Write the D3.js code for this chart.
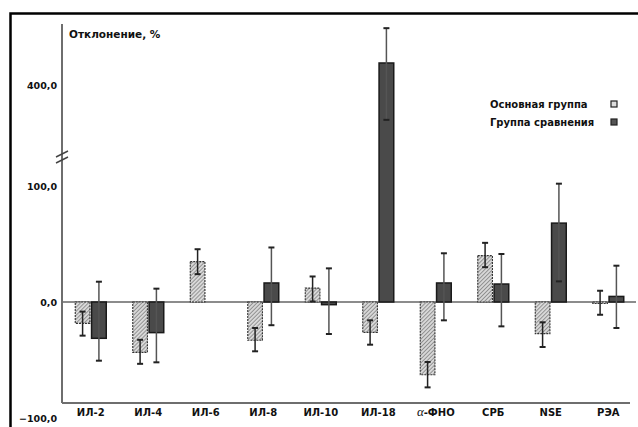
<!DOCTYPE html>
<html>
<head>
<meta charset="utf-8">
<script src="https://cdn.jsdelivr.net/npm/d3@7"></script>
<style>
  body { margin: 0; background: #fff; }
  text { font-family: "DejaVu Sans", sans-serif; font-weight: bold; fill: #111; }
</style>
</head>
<body>
<script>
// categories and series
const categories = ["ИЛ-2", "ИЛ-4", "ИЛ-6", "ИЛ-8", "ИЛ-10", "ИЛ-18", "α-ФНО", "СРБ", "NSE", "РЭА"];
const seriesNames = ["Основная группа", "Группа сравнения"];

// Основная группа: value, error low, error high
const mainValues = [-18.4, -43.4, 34.8, -33, 12, -26.2, -62.7, 40, -27.3, -1];
const mainLow    = [-29, -53.3, 24, -42.5, 0.5, -36.8, -73.6, 30, -38.8, -11];
const mainHigh   = [-8.3, -32.6, 45.5, -22.4, 22, -15.8, -51.7, 51, -17.5, 9.7];

// Группа сравнения: value, error low, error high (ИЛ-6 has no bar)
const compValues = [-31.3, -26.4, null, 16.4, -2.3, 419, 16.4, 15.5, 68, 4.8];
const compLow    = [-50.6, -52, null, -20, -27.6, 370, -15.8, -21, 17.8, -22.4];
const compHigh   = [17.5, 11.5, null, 47, 29, 449, 42, 41.4, 102, 31.3];

const yTicks = [-100, 0, 100, 400];

const width = 638;
const height = 427;

const svg = d3.select("body").append("svg")
  .attr("width", width)
  .attr("height", height);

const defs = svg.append("defs");
const hatch = defs.append("pattern")
  .attr("id", "hatch")
  .attr("patternUnits", "userSpaceOnUse")
  .attr("width", 2.8)
  .attr("height", 2.8)
  .attr("patternTransform", "rotate(45)");
hatch.append("rect").attr("width", 2.8).attr("height", 2.8).attr("fill", "#d8d8d8");
hatch.append("line").attr("x1", 0).attr("y1", 0).attr("x2", 0).attr("y2", 2.8)
  .attr("stroke", "#666").attr("stroke-width", 1.2);

// frame
svg.append("path")
  .attr("d", `M10.5,427 V13.5 H638`)
  .attr("fill", "none")
  .attr("stroke", "#000")
  .attr("stroke-width", 2.5);

// broken y scale: lower part -100..125, upper part 338..460
const y = d3.scaleLinear()
  .domain([-100, 125, 338, 460])
  .range([418, 157, 157, 15.4]);

const x0 = d3.scaleBand().domain(categories).range([62, 637]);
const x1 = d3.scaleBand().domain(seriesNames)
  .range([x0.bandwidth() / 2 - 15.5, x0.bandwidth() / 2 + 15.5])
  .paddingInner(0.1);

const axisX = 62;
const baseY = 403;

// zero line
svg.append("line")
  .attr("x1", axisX).attr("x2", 636)
  .attr("y1", y(0)).attr("y2", y(0))
  .attr("stroke", "#666").attr("stroke-width", 1.5);

// bars
const rows = categories.map((c, i) => ({
  cat: c,
  bars: [
    { s: seriesNames[0], v: mainValues[i], lo: mainLow[i], hi: mainHigh[i] },
    { s: seriesNames[1], v: compValues[i], lo: compLow[i], hi: compHigh[i] }
  ].filter((b) => b.v !== null)
}));

const groups = svg.selectAll("g.grp")
  .data(rows)
  .enter()
  .append("g")
  .attr("class", "grp")
  .attr("transform", (d) => `translate(${x0(d.cat)},0)`);

groups.selectAll("rect")
  .data((d) => d.bars)
  .enter()
  .append("rect")
  .attr("x", (d) => x1(d.s))
  .attr("width", x1.bandwidth())
  .attr("y", (d) => Math.min(y(d.v), y(0)))
  .attr("height", (d) => Math.max(1.5, Math.abs(y(d.v) - y(0))))
  .attr("fill", (d) => d.s === seriesNames[0] ? "url(#hatch)" : "#4a4a4a")
  .attr("stroke", (d) => d.s === seriesNames[0] ? "#333" : "#1a1a1a")
  .attr("stroke-width", (d) => d.s === seriesNames[0] ? 1.1 : 1.5)
  .attr("stroke-dasharray", (d) => d.s === seriesNames[0] ? "2,1" : null);

// error bars
const err = groups.selectAll("g.err")
  .data((d) => d.bars)
  .enter()
  .append("g")
  .attr("class", "err")
  .attr("transform", (d) => `translate(${x1(d.s) + x1.bandwidth() / 2},0)`);

err.append("line")
  .attr("y1", (d) => y(d.lo))
  .attr("y2", (d) => y(d.hi))
  .attr("stroke", (d) => d.s === seriesNames[0] ? "#222" : "#555")
  .attr("stroke-width", 1.5);

err.selectAll("line.cap")
  .data((d) => [d.lo, d.hi])
  .enter()
  .append("line")
  .attr("class", "cap")
  .attr("x1", -3).attr("x2", 3)
  .attr("y1", (d) => y(d)).attr("y2", (d) => y(d))
  .attr("stroke", "#222")
  .attr("stroke-width", 2);

// y axis
svg.append("line")
  .attr("x1", axisX).attr("x2", axisX)
  .attr("y1", 24).attr("y2", baseY)
  .attr("stroke", "#6e6e6e").attr("stroke-width", 2);

const yAxis = d3.axisLeft(y)
  .tickValues(yTicks)
  .tickSize(0)
  .tickPadding(5)
  .tickFormat((d) => d3.format(".1f")(d).replace(".", ","));

svg.append("g")
  .attr("transform", `translate(${axisX},0)`)
  .call(yAxis)
  .call((g) => g.select(".domain").remove())
  .selectAll("text")
  .attr("font-size", 9.5)
  .attr("font-family", null);

// axis break marks
[-3, 3].forEach((o) => {
  svg.append("line")
    .attr("x1", axisX - 6).attr("y1", 157 + o + 3)
    .attr("x2", axisX + 6).attr("y2", 157 + o - 3)
    .attr("stroke", "#444").attr("stroke-width", 1.5);
});

// x axis
svg.append("line")
  .attr("x1", axisX).attr("x2", 630)
  .attr("y1", baseY).attr("y2", baseY)
  .attr("stroke", "#6e6e6e").attr("stroke-width", 2);

const xAxis = d3.axisBottom(x0).tickSize(0).tickPadding(6);
const xg = svg.append("g")
  .attr("transform", `translate(0,${baseY})`)
  .call(xAxis)
  .call((g) => g.select(".domain").remove());

xg.selectAll("text")
  .attr("font-size", 10)
  .attr("font-family", null)
  .each(function (d) {
    if (d.startsWith("α")) {
      const t = d3.select(this).text("");
      t.append("tspan")
        .style("font-family", "'Liberation Serif', serif")
        .style("font-style", "italic")
        .style("font-weight", "normal")
        .attr("font-size", 13)
        .text("α");
      t.append("tspan").text(d.slice(1));
    }
  });

// title
svg.append("text")
  .attr("x", 69).attr("y", 38)
  .attr("font-size", 10.5)
  .text("Отклонение, %");

// legend
const legend = svg.append("g").attr("transform", "translate(490,104)");
seriesNames.forEach((s, i) => {
  legend.append("text")
    .attr("x", 0).attr("y", i * 18)
    .attr("dy", "0.35em")
    .attr("font-size", 10)
    .text(s);
  legend.append("rect")
    .attr("x", 121).attr("y", i * 18 - 3)
    .attr("width", 6).attr("height", 6)
    .attr("fill", i === 0 ? "#ddd" : "#555")
    .attr("stroke", "#222")
    .attr("stroke-width", 1.2);
});
</script>
</body>
</html>
